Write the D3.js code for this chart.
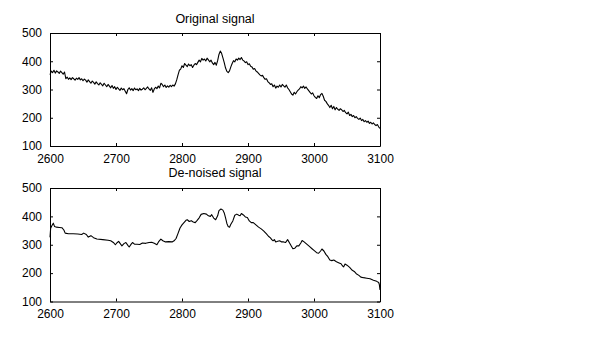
<!DOCTYPE html>
<html>
<head>
<meta charset="utf-8">
<script src="https://cdn.jsdelivr.net/npm/d3@7"></script>
<style>
  html, body { margin: 0; padding: 0; background: #fff; }
  svg { display: block; }
  text { font-family: "Liberation Sans", Arial, Helvetica, sans-serif; fill: #000; }
</style>
</head>
<body>
<svg id="chart" width="599" height="355"></svg>
<script>
// ---------------- data ----------------
const xTicks = [2600, 2700, 2800, 2900, 3000, 3100];
const yTicks = [100, 200, 300, 400, 500];
const titles = ["Original signal", "De-noised signal"];

// Original signal: samples at x = 2600, 2602, ... 3100
const originalStart = 2600;
const originalStep = 2;
const originalValues = [
  352,365,360,368,358,366,362,357,365,360,354,362,
  338,344,336,341,335,342,338,333,340,336,342,334,338,331,337,333,
  326,334,328,322,330,325,319,327,321,316,324,318,313,322,316,310,318,312,306,314,304,310,
  300,308,302,297,305,299,303,294,285,300,306,298,303,296,305,299,302,296,304,298,301,306,299,304,309,302,297,306,290,302,
  308,303,312,306,322,318,310,316,307,313,308,315,310,316,312,320,
  334,352,368,372,384,378,392,386,381,390,384,388,378,386,392,388,396,
  404,398,410,404,408,401,411,405,398,404,394,388,396,386,402,424,436,428,412,395,376,364,360,366,380,392,402,398,
  408,404,411,406,413,404,401,395,398,388,391,382,380,372,374,366,362,357,352,348,350,342,336,338,328,324,318,
  320,310,316,305,312,308,316,309,318,313,308,316,306,300,292,284,280,290,284,292,298,302,310,306,312,304,309,302,
  296,290,284,288,278,272,268,278,271,282,286,276,262,258,250,244,236,244,232,240,228,236,230,226,232,228,222,226,218,
  214,220,208,212,204,208,200,204,198,194,199,190,194,186,190,184,188,180,184,178,182,176,172,176,168,162
];

// De-noised signal
const denoisedX = [
  2600,2601,2603,2605,2607,2610,2614,2618,2621,2623,2628,2635,2642,2648,2651,2655,2658,2662,2666,2671,
  2680,2688,2692,2696,2699,2702,2704,2707,2709,2712,2715,2718,2720,2723,2725,2728,2732,2736,2740,2745,
  2750,2754,2758,2762,2765,2768,2771,2775,2780,2785,2788,2791,2794,2797,2800,2803,2806,2808,2811,2814,
  2817,2820,2823,2826,2829,2833,2837,2840,2843,2845,2848,2851,2854,2856,2859,2862,2864,2866,2868,2870,
  2872,2874,2877,2880,2883,2886,2888,2890,2893,2896,2899,2902,2905,2908,2912,2916,2920,2924,2928,2931,
  2934,2936,2938,2940,2942,2945,2948,2951,2954,2957,2960,2963,2966,2968,2971,2974,2977,2980,2982,2985,
  2989,2993,2997,3000,3004,3007,3010,3012,3015,3018,3021,3024,3027,3030,3034,3038,3041,3043,3045,3047,
  3050,3054,3058,3061,3064,3068,3071,3075,3080,3085,3090,3095,3098,3099,3100
];
const denoisedValues = [
  326,358,368,376,364,362,361,360,352,341,339,339,338,336,341,336,327,332,325,320,
  318,316,314,308,300,308,312,302,296,304,308,298,292,302,308,302,302,301,306,305,
  308,309,305,300,312,320,314,310,311,310,314,322,340,359,370,378,386,388,382,385,
  380,378,386,395,407,410,408,402,400,406,394,388,402,420,426,422,412,395,375,364,
  362,372,384,404,408,404,402,410,405,398,396,384,378,378,370,362,356,348,338,330,
  324,318,314,318,310,312,314,310,310,308,318,306,294,286,288,296,296,306,315,310,
  302,294,286,280,272,270,278,285,278,266,258,246,244,246,240,236,233,226,222,232,
  228,220,210,206,198,192,186,184,182,180,175,171,167,160,141
];

const panels = [
  { title: titles[0], xs: originalValues.map((v, i) => originalStart + originalStep * i), ys: originalValues },
  { title: titles[1], xs: denoisedX, ys: denoisedValues }
];

// ---------------- layout ----------------
const svg = d3.select("#chart");
const left = 50, right = 380;
const panelBoxes = [
  { top: 33, bottom: 146, titleY: 23 },
  { top: 188, bottom: 301.5, titleY: 177 }
];
const tickLen = 3;

panels.forEach((p, k) => {
  const box = panelBoxes[k];
  const x = d3.scaleLinear().domain([2600, 3100]).range([left, right]);
  const y = d3.scaleLinear().domain([100, 500]).range([box.bottom, box.top]);
  const g = svg.append("g");

  // data line
  const line = d3.line().x((d, i) => x(p.xs[i])).y(d => y(d));
  g.append("path")
    .datum(p.ys)
    .attr("d", line)
    .attr("fill", "none")
    .attr("stroke", "#000")
    .attr("stroke-width", 1.1)
    .attr("stroke-linejoin", "round");

  // axes (ticks inward, MATLAB style)
  const fmt = d3.format("d");
  const ax = [
    { a: d3.axisBottom(x).tickValues(xTicks).tickSizeInner(-tickLen).tickSizeOuter(0).tickPadding(8).tickFormat(fmt), t: `translate(0,${box.bottom})`, labels: true },
    { a: d3.axisTop(x).tickValues(xTicks).tickSizeInner(-tickLen).tickSizeOuter(0).tickFormat(""), t: `translate(0,${box.top})`, labels: false },
    { a: d3.axisLeft(y).tickValues(yTicks).tickSizeInner(-tickLen).tickSizeOuter(0).tickPadding(8).tickFormat(fmt), t: `translate(${left},0)`, labels: true },
    { a: d3.axisRight(y).tickValues(yTicks).tickSizeInner(-tickLen).tickSizeOuter(0).tickFormat(""), t: `translate(${right},0)`, labels: false }
  ];
  ax.forEach(o => {
    const ag = g.append("g").attr("transform", o.t).call(o.a);
    ag.select(".domain").attr("stroke", "#000").attr("stroke-width", 1);
    ag.selectAll(".tick line").attr("stroke", "#000").attr("stroke-width", 1);
    ag.selectAll(".tick text")
      .style("font-family", '"Liberation Sans", Arial, Helvetica, sans-serif')
      .style("font-size", "12px")
      .attr("fill", "#000");
  });

  // title
  g.append("text")
    .attr("x", (left + right) / 2)
    .attr("y", box.titleY)
    .attr("text-anchor", "middle")
    .style("font-size", "12.5px")
    .text(p.title);
});
</script>
</body>
</html>
